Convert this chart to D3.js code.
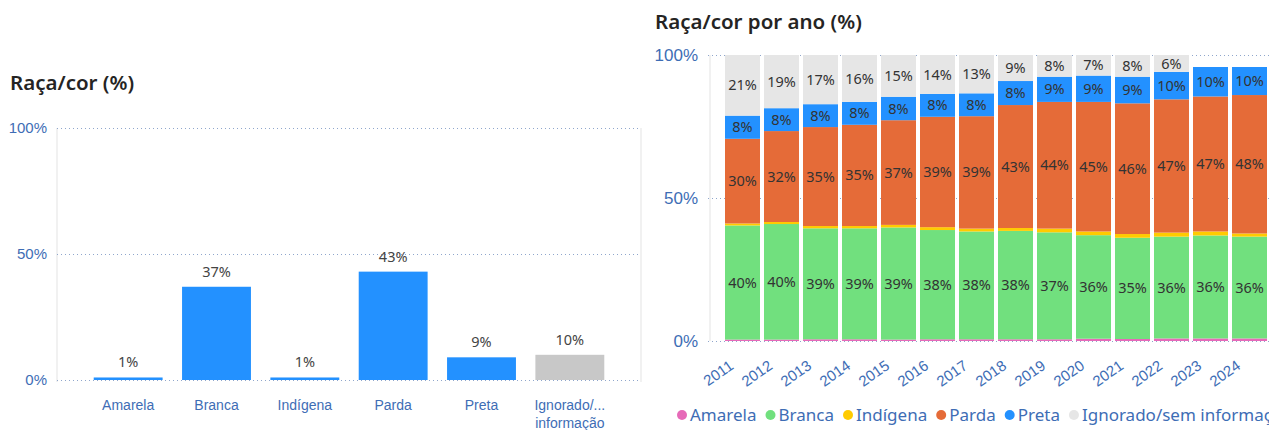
<!DOCTYPE html>
<html>
<head>
<meta charset="utf-8">
<script src="https://cdn.jsdelivr.net/npm/d3@7"></script>
<style>
  html, body { margin: 0; padding: 0; background: #fff; }
  svg { display: block; font-family: "Segoe UI", "Noto Sans", sans-serif; }
</style>
</head>
<body>
<svg id="chart" width="1269" height="430"></svg>
<script>
// left chart: overall share by race/colour
const categories = ["Amarela", "Branca", "Indígena", "Parda", "Preta", "Ignorado/sem informação"];
const totalShare = [1, 37, 1, 43, 9, 10];
const categoryTickLabels = [["Amarela"], ["Branca"], ["Indígena"], ["Parda"], ["Preta"], ["Ignorado/...", "informação"]];

// right chart: share per year
const years = ["2011", "2012", "2013", "2014", "2015", "2016", "2017", "2018", "2019", "2020", "2021", "2022", "2023", "2024"];
const amarela  = [0.5, 0.5, 0.6, 0.6, 0.5, 0.6, 0.6, 0.6, 0.6, 0.8, 0.7, 0.9, 0.9, 0.9];
const branca   = [39.9, 40.4, 38.8, 38.8, 39.2, 38.2, 37.7, 37.9, 37.4, 36.2, 35.4, 35.6, 36.0, 35.6];
const indigena = [0.7, 0.7, 0.8, 0.8, 0.9, 1.0, 1.0, 1.0, 1.3, 1.3, 1.3, 1.4, 1.4, 1.1];
const parda    = [29.6, 31.8, 34.6, 35.4, 36.6, 38.6, 39.3, 43.0, 44.3, 45.3, 45.7, 46.6, 47.2, 48.4];
const preta    = [8.1, 8.0, 8.0, 8.0, 8.2, 8.0, 8.0, 8.4, 8.8, 9.2, 9.3, 9.6, 10.3, 9.8];
const ignorado = [21.2, 18.6, 17.2, 16.4, 14.6, 13.6, 13.4, 9.1, 7.6, 7.2, 7.6, 5.9, 0, 0];

const yTicks = [0, 50, 100];

const seriesKeys = ["Amarela", "Branca", "Indígena", "Parda", "Preta", "Ignorado/sem informação"];
const seriesValues = [amarela, branca, indigena, parda, preta, ignorado];
const seriesColors = ["#E66AB8", "#71E07E", "#FFCB00", "#E56B38", "#2391FF", "#E6E6E6"];

const axisColor = "#3E6DB5";
const labelColor = "#333";
const gridColor = "#8FA6CC";

const svg = d3.select("#chart");

// ---------- left chart ----------
const left = { x0: 57, x1: 641, y0: 128, y1: 380 };

svg.append("text")
  .attr("x", 10).attr("y", 90)
  .attr("font-size", 20.5).attr("font-weight", 600)
  .attr("fill", "#252423")
  .text("Raça/cor (%)");

const xL = d3.scaleBand()
  .domain(categories)
  .range([84, 614])
  .paddingInner(0.22)
  .paddingOuter(0.11);

const yL = d3.scaleLinear().domain([0, 100]).range([left.y1, left.y0]);

// panel side borders
svg.append("g")
  .selectAll("line")
  .data([left.x0, left.x1])
  .join("line")
  .attr("x1", d => d).attr("x2", d => d)
  .attr("y1", left.y0).attr("y2", left.y1 + 2)
  .attr("stroke", "#E3E3E3");

const gridL = svg.append("g")
  .attr("transform", `translate(${left.x0},0)`)
  .call(d3.axisLeft(yL).tickValues(yTicks).tickSize(-(left.x1 - left.x0)).tickFormat(d => d + "%"));
gridL.select(".domain").remove();
gridL.selectAll(".tick line").attr("stroke", gridColor).attr("stroke-dasharray", "1,3");
gridL.selectAll(".tick text")
  .attr("x", -10)
  .attr("fill", axisColor)
  .attr("font-size", 15)
  .attr("font-family", "inherit");

svg.append("g")
  .selectAll("rect")
  .data(categories)
  .join("rect")
  .attr("x", d => xL(d))
  .attr("width", xL.bandwidth())
  .attr("y", (d, i) => yL(totalShare[i]))
  .attr("height", (d, i) => yL(0) - yL(totalShare[i]))
  .attr("fill", (d, i) => i === categories.length - 1 ? "#C8C8C8" : "#2391FF");

svg.append("g")
  .selectAll("text")
  .data(categories)
  .join("text")
  .attr("x", d => xL(d) + xL.bandwidth() / 2)
  .attr("y", (d, i) => yL(totalShare[i]) - 10)
  .attr("text-anchor", "middle")
  .attr("font-size", 14.5)
  .attr("fill", "#444")
  .text((d, i) => totalShare[i] + "%");

const xAxisL = svg.append("g")
  .attr("transform", `translate(0,${left.y1})`)
  .call(d3.axisBottom(xL).tickSize(0).tickFormat(""));
xAxisL.select(".domain").remove();
xAxisL.selectAll(".tick text").remove();
xAxisL.selectAll(".tick")
  .append("text")
  .attr("text-anchor", "middle")
  .attr("fill", axisColor)
  .attr("font-size", 14)
  .selectAll("tspan")
  .data((d, i) => categoryTickLabels[i])
  .join("tspan")
  .attr("x", 0)
  .attr("y", (d, j) => 30 + j * 18)
  .text(d => d);

// ---------- right chart ----------
const right = { x0: 710, x1: 1269, y0: 55, y1: 341 };

svg.append("text")
  .attr("x", 655).attr("y", 29)
  .attr("font-size", 20.5).attr("font-weight", 600)
  .attr("fill", "#252423")
  .text("Raça/cor por ano (%)");

const xR = d3.scaleBand()
  .domain(years)
  .range([723, 1269])
  .paddingInner(4 / 39)
  .paddingOuter(2 / 39);

const yR = d3.scaleLinear().domain([0, 100]).range([right.y1, right.y0]);

svg.append("line")
  .attr("x1", right.x0).attr("x2", right.x0)
  .attr("y1", right.y0).attr("y2", right.y1)
  .attr("stroke", "#E3E3E3");

const gridR = svg.append("g")
  .attr("transform", `translate(${right.x0 - 2},0)`)
  .call(d3.axisLeft(yR).tickValues(yTicks).tickSize(-(right.x1 - right.x0 + 2)).tickFormat(d => d + "%"));
gridR.select(".domain").remove();
gridR.selectAll(".tick line").attr("stroke", gridColor).attr("stroke-dasharray", "1,3");
gridR.selectAll(".tick text")
  .attr("x", -10)
  .attr("fill", axisColor)
  .attr("font-size", 17)
  .attr("font-family", "inherit");

const rows = years.map((yr, i) => {
  const row = { year: yr };
  seriesKeys.forEach((k, s) => { row[k] = seriesValues[s][i]; });
  return row;
});

const stacked = d3.stack().keys(seriesKeys)(rows);

const layers = svg.append("g")
  .selectAll("g")
  .data(stacked)
  .join("g")
  .attr("fill", (d, i) => seriesColors[i]);

layers.selectAll("rect")
  .data(d => d)
  .join("rect")
  .attr("x", d => xR(d.data.year))
  .attr("width", xR.bandwidth())
  .attr("y", d => yR(d[1]))
  .attr("height", d => yR(d[0]) - yR(d[1]));

layers.selectAll("text")
  .data(layer => layer.filter(p => p.data[layer.key] >= 3).map(p => ({ p, v: p.data[layer.key] })))
  .join("text")
  .attr("x", d => xR(d.p.data.year) + xR.bandwidth() / 2)
  .attr("y", d => (yR(d.p[0]) + yR(d.p[1])) / 2)
  .attr("dy", "0.35em")
  .attr("text-anchor", "middle")
  .attr("font-size", 14.5)
  .attr("fill", labelColor)
  .text(d => Math.round(d.v) + "%");

const xAxisR = svg.append("g")
  .attr("transform", `translate(0,${right.y1})`)
  .call(d3.axisBottom(xR).tickSize(0));
xAxisR.select(".domain").remove();
xAxisR.selectAll(".tick text")
  .attr("fill", axisColor)
  .attr("font-size", 15)
  .attr("font-family", "inherit")
  .attr("text-anchor", "end")
  .attr("y", 0)
  .attr("dy", 0)
  .attr("transform", "translate(-8,27) rotate(-35)");

// legend
const legend = svg.append("g").attr("transform", "translate(682,415)");
let lx = 0;
seriesKeys.forEach((k, i) => {
  const item = legend.append("g").attr("transform", `translate(${lx},0)`);
  item.append("circle").attr("r", 5).attr("cy", 0).attr("fill", seriesColors[i]);
  const t = item.append("text")
    .attr("x", 8).attr("dy", "0.35em")
    .attr("font-size", 17)
    .attr("fill", axisColor)
    .text(k);
  lx += 8 + t.node().getComputedTextLength() + 14;
});
</script>
</body>
</html>
